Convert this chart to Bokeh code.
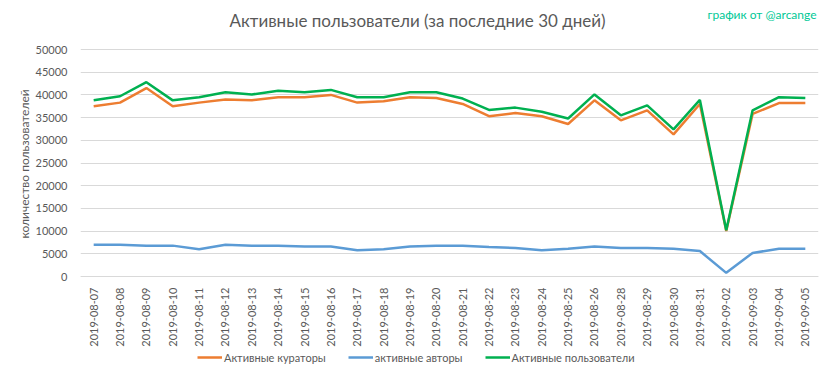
from bokeh.plotting import figure
from bokeh.models import (FactorRange, Range1d, Label, Legend, LegendItem,
                          FixedTicker, ColumnDataSource, Title)
from bokeh.embed import file_html
from bokeh.resources import INLINE
import math

dates = ["2019-08-07", "2019-08-08", "2019-08-09", "2019-08-10", "2019-08-11",
         "2019-08-12", "2019-08-13", "2019-08-14", "2019-08-15", "2019-08-16",
         "2019-08-17", "2019-08-18", "2019-08-19", "2019-08-20", "2019-08-21",
         "2019-08-22", "2019-08-23", "2019-08-24", "2019-08-25", "2019-08-26",
         "2019-08-28", "2019-08-29", "2019-08-30", "2019-08-31", "2019-09-02",
         "2019-09-03", "2019-09-04", "2019-09-05"]

curators = [37500, 38300, 41500, 37500, 38300, 39000, 38800, 39500, 39500, 40000,
            38300, 38600, 39500, 39300, 38000, 35300, 36000, 35300, 33600, 38800,
            34400, 36600, 31300, 38000, 10000, 35800, 38200, 38200]

authors = [7000, 7000, 6800, 6800, 6000, 7000, 6800, 6800, 6600, 6600,
           5800, 6000, 6600, 6800, 6800, 6500, 6300, 5800, 6100, 6600,
           6300, 6300, 6100, 5600, 800, 5200, 6100, 6100]

users = [38800, 39700, 42800, 38800, 39500, 40600, 40100, 40900, 40600, 41100,
         39500, 39500, 40600, 40600, 39200, 36700, 37200, 36300, 34800, 40100,
         35500, 37700, 32400, 38900, 10200, 36600, 39500, 39300]

y_ticks = [0, 5000, 10000, 15000, 20000, 25000, 30000, 35000, 40000, 45000, 50000]

series_names = ["Активные кураторы", "активные авторы", "Активные пользователи"]
colors = ["#ED7D31", "#5B9BD5", "#00B050"]

FONT = "Lato"
GRAY = "#595959"

# The frame spans the full canvas height so title, credit and legend can sit
# inside it; value 0 lands 276px from the top and 50000 at 49px.
H = 379
PX_PER_UNIT = 227 / 50000
Y_MIN = -(H - 276) / PX_PER_UNIT
Y_MAX = 50000 + 49 / PX_PER_UNIT

p = figure(width=833, height=H, output_backend="svg", toolbar_location=None,
           title=None,
           x_range=FactorRange(factors=dates, range_padding=0),
           y_range=Range1d(Y_MIN, Y_MAX),
           min_border_left=80, min_border_right=15, min_border_top=0,
           min_border_bottom=0)
p.outline_line_color = None

src = ColumnDataSource(dict(x=dates, cur=curators, auth=authors, usr=users))
r1 = p.line("x", "cur", source=src, line_color=colors[0], line_width=2.5)
r2 = p.line("x", "auth", source=src, line_color=colors[1], line_width=2.5)
r3 = p.line("x", "usr", source=src, line_color=colors[2], line_width=2.5)

p.xgrid.grid_line_color = None
p.ygrid.grid_line_color = "#d9d9d9"
p.ygrid.grid_line_width = 1

p.yaxis.ticker = FixedTicker(ticks=y_ticks)
p.yaxis.axis_line_color = None
p.yaxis.major_tick_line_color = None
p.yaxis.minor_tick_line_color = None
p.yaxis.major_label_text_font = FONT
p.yaxis.major_label_text_font_size = "11px"
p.yaxis.major_label_text_color = GRAY
p.yaxis.major_label_standoff = 7

ytitle = Title(text="количество пользователей", align="left", offset=141,
               standoff=2, text_font=FONT, text_font_size="12px",
               text_font_style="normal", text_color=GRAY)
p.add_layout(ytitle, "left")

p.xaxis.fixed_location = 0
p.xaxis.axis_line_color = "#d9d9d9"
p.xaxis.major_tick_line_color = None
p.xaxis.minor_tick_line_color = None
p.xaxis.major_label_orientation = math.pi / 2
p.xaxis.major_label_text_font = FONT
p.xaxis.major_label_text_font_size = "11px"
p.xaxis.major_label_text_color = GRAY
p.xaxis.major_label_standoff = 5

title = Label(x=337, y=H - 20, x_units="screen", y_units="screen",
              text="Активные пользователи (за последние 30 дней)",
              text_font=FONT, text_font_size="17px", text_color=GRAY,
              text_align="center", text_baseline="middle")
p.add_layout(title)

credit = Label(x=736, y=H - 14, x_units="screen", y_units="screen",
               text="график от @arcange", text_font=FONT,
               text_font_size="12px", text_color="#00C896",
               text_align="right", text_baseline="middle")
p.add_layout(credit)

legend = Legend(items=[LegendItem(label=series_names[0], renderers=[r1]),
                       LegendItem(label=series_names[1], renderers=[r2]),
                       LegendItem(label=series_names[2], renderers=[r3])],
                orientation="horizontal", location=(117, 12),
                border_line_color=None, background_fill_alpha=0,
                label_text_font=FONT, label_text_font_size="11px",
                label_text_color=GRAY, glyph_width=25, label_standoff=2,
                spacing=22, padding=0, margin=0)
p.add_layout(legend)

open("out.html", "w").write(file_html(p, INLINE))
